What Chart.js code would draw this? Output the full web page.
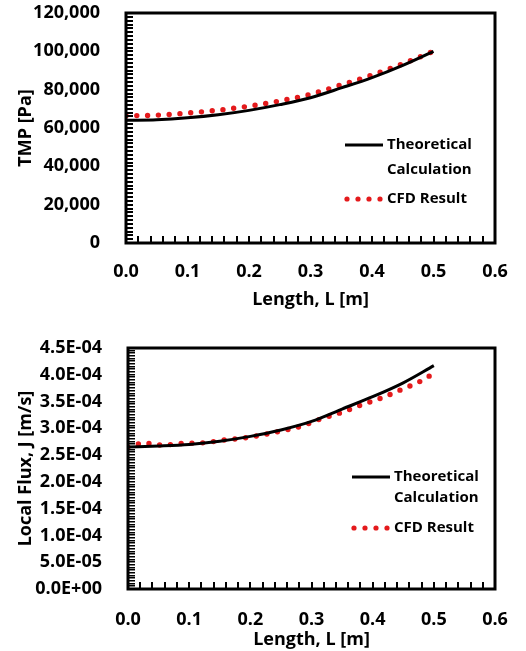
<!DOCTYPE html>
<html>
<head>
<meta charset="utf-8">
<script src="https://cdn.jsdelivr.net/npm/chart.js@4.4.1/dist/chart.umd.min.js"></script>
<style>
  body { margin: 0; background: #fff; }
  .box { position: absolute; left: 0; width: 526px; }
  #box1 { top: 0; height: 325px; }
  #box2 { top: 325px; height: 326px; }
</style>
</head>
<body>
<div class="box" id="box1"><canvas id="chart-tmp"></canvas></div>
<div class="box" id="box2"><canvas id="chart-flux"></canvas></div>
<script>
// --- DONNEES ---
const lengthTheo = [0, 0.05, 0.1, 0.15, 0.2, 0.25, 0.3, 0.35, 0.4, 0.45, 0.5];
const tmpTheo = [64000, 64300, 65300, 66900, 69200, 72200, 75800, 80900, 86300, 92700, 100000];
const lengthCfdTmp = [0, 0.05, 0.1, 0.15, 0.2, 0.25, 0.3, 0.35, 0.4, 0.45, 0.5];
const tmpCfd = [66400, 66700, 67800, 69300, 71400, 74100, 77600, 82500, 87600, 93500, 100000];

const fluxTheo = [2.65e-4, 2.67e-4, 2.70e-4, 2.76e-4, 2.85e-4, 2.97e-4, 3.13e-4, 3.36e-4, 3.59e-4, 3.85e-4, 4.17e-4];
const lengthCfdFlux = [0, 0.018, 0.029, 0.044, 0.06, 0.09, 0.124, 0.156, 0.19, 0.221, 0.254, 0.286, 0.316, 0.35, 0.382, 0.415, 0.448, 0.48, 0.496];
const fluxCfd = [2.65e-4, 2.71e-4, 2.73e-4, 2.69e-4, 2.69e-4, 2.72e-4, 2.73e-4, 2.78e-4, 2.82e-4, 2.88e-4, 2.96e-4, 3.05e-4, 3.18e-4, 3.30e-4, 3.44e-4, 3.57e-4, 3.73e-4, 3.89e-4, 4.00e-4];

const xTicks = [0, 0.1, 0.2, 0.3, 0.4, 0.5, 0.6];
const xMinorStep = 0.02;
const legendLabels = ['Theoretical', 'Calculation', 'CFD Result'];

const FONT = '"Open Sans", sans-serif';

const toPoints = (xs, ys) => xs.map((x, i) => ({ x, y: ys[i] }));

// format 4.5E-04
const sciLabel = v => {
    const [m, e] = Number(v).toExponential(1).toUpperCase().split('E');
    const sign = e[0] === '-' ? '-' : '+';
    const digits = e.replace(/[+-]/, '').padStart(2, '0');
    return `${m}E${sign}${digits}`;
};

// cadre + petites graduations internes + legende dans le graphe
const makeFramePlugin = cfg => ({
    id: 'frame' + cfg.yTitle.length,
    afterDatasetsDraw(chart) {
        const { ctx, chartArea: a, scales } = chart;
        const ys = scales.y;
        const xs = scales.x;
        ctx.save();
        ctx.fillStyle = '#000';
        // graduations y
        const nY = Math.round(cfg.yMax / cfg.yMinor);
        for (let i = 0; i <= nY; i++) {
            const py = Math.round(ys.getPixelForValue(i * cfg.yMinor));
            ctx.fillRect(a.left, py - 1, 7, cfg.yTickH);
        }
        // graduations x
        const nX = Math.round(0.6 / xMinorStep);
        for (let i = 0; i <= nX; i++) {
            const px = Math.round(xs.getPixelForValue(i * xMinorStep));
            ctx.fillRect(px - 1, a.bottom - 7, 2, 7);
        }
        ctx.strokeStyle = '#000';
        ctx.lineWidth = 3;
        ctx.strokeRect(a.left, a.top, a.right - a.left, a.bottom - a.top);

        // legende
        const L = cfg.legend;
        ctx.beginPath();
        ctx.moveTo(L.x, L.y1);
        ctx.lineTo(L.x + 38, L.y1);
        ctx.stroke();
        ctx.fillStyle = '#e41a1c';
        for (let i = 0; i < 4; i++) {
            ctx.beginPath();
            ctx.arc(L.x + 2 + i * 11, L.y3, 2.6, 0, Math.PI * 2);
            ctx.fill();
        }
        ctx.fillStyle = '#000';
        ctx.font = `bold 15px ${FONT}`;
        ctx.textBaseline = 'middle';
        ctx.textAlign = 'left';
        ctx.fillText(legendLabels[0], L.x + 42, L.y1);
        ctx.fillText(legendLabels[1], L.x + 42, L.y2);
        ctx.fillText(legendLabels[2], L.x + 42, L.y3);
        ctx.restore();
    }
});

const buildChart = (canvasId, cfg) => new Chart(document.getElementById(canvasId), {
    type: 'line',
    data: {
        datasets: [
            {
                label: 'Theoretical Calculation',
                data: toPoints(lengthTheo, cfg.theo),
                borderColor: '#000',
                borderWidth: 3,
                pointRadius: 0,
                cubicInterpolationMode: 'monotone'
            },
            {
                label: 'CFD Result',
                data: toPoints(cfg.cfdX, cfg.cfd),
                borderColor: '#e41a1c',
                borderWidth: 5.4,
                borderDash: [0, 10.8],
                borderCapStyle: 'round',
                pointRadius: 0,
                cubicInterpolationMode: 'monotone'
            }
        ]
    },
    options: {
        responsive: true,
        maintainAspectRatio: false,
        animation: false,
        layout: { padding: { top: cfg.top, right: 31, bottom: 0, left: 0 } },
        plugins: {
            legend: { display: false },
            tooltip: { enabled: false }
        },
        scales: {
            x: {
                type: 'linear',
                min: 0,
                max: 0.6,
                afterBuildTicks: s => { s.ticks = xTicks.map(v => ({ value: v })); },
                afterFit: s => {
                    s.height = cfg.xHeight;
                    s.paddingLeft = 0;
                    s.paddingRight = 0;
                },
                grid: { display: false },
                border: { display: false },
                ticks: {
                    color: '#000',
                    padding: cfg.xPad,
                    font: { family: FONT, size: 18, weight: 'bold' },
                    callback: v => Number(v).toFixed(1)
                },
                title: {
                    display: true,
                    text: 'Length, L [m]',
                    color: '#000',
                    font: { family: FONT, size: 18, weight: 'bold' },
                    padding: { top: 0, bottom: cfg.xTitlePad }
                }
            },
            y: {
                min: 0,
                max: cfg.yMax,
                afterBuildTicks: s => { s.ticks = cfg.yTicks.map(v => ({ value: v })); },
                afterFit: s => {
                    s.width = cfg.yWidth;
                    s.paddingTop = 0;
                    s.paddingBottom = 0;
                },
                grid: { display: false },
                border: { display: false },
                ticks: {
                    color: '#000',
                    padding: 18,
                    font: { family: FONT, size: 18, weight: 'bold' },
                    callback: cfg.yLabel
                },
                title: {
                    display: true,
                    text: cfg.yTitle,
                    color: '#000',
                    font: { family: FONT, size: 18, weight: 'bold' },
                    padding: { top: 15, bottom: 0 }
                }
            }
        }
    },
    plugins: [makeFramePlugin(cfg)]
});

document.addEventListener('DOMContentLoaded', () => {
    buildChart('chart-tmp', {
        theo: tmpTheo,
        cfdX: lengthCfdTmp,
        cfd: tmpCfd,
        top: 13,
        yMax: 120000,
        yTicks: [0, 20000, 40000, 60000, 80000, 100000, 120000],
        yMinor: 2000,
        yTickH: 2,
        yLabel: v => Number(v).toLocaleString('en-US'),
        yTitle: 'TMP [Pa]',
        yWidth: 126,
        xHeight: 82,
        xPad: 10,
        xTitlePad: 14,
        legend: { x: 345, y1: 145, y2: 170, y3: 199 }
    });

    buildChart('chart-flux', {
        theo: fluxTheo,
        cfdX: lengthCfdFlux,
        cfd: fluxCfd,
        top: 23,
        yMax: 4.5e-4,
        yTicks: [0, 0.5e-4, 1e-4, 1.5e-4, 2e-4, 2.5e-4, 3e-4, 3.5e-4, 4e-4, 4.5e-4],
        yMinor: 5e-6,
        yTickH: 1.5,
        yLabel: sciLabel,
        yTitle: 'Local Flux, J [m/s]',
        yWidth: 128,
        xHeight: 62,
        xPad: 12,
        xTitlePad: 0,
        legend: { x: 352, y1: 152, y2: 173, y3: 203 }
    });
});
</script>
</body>
</html>
